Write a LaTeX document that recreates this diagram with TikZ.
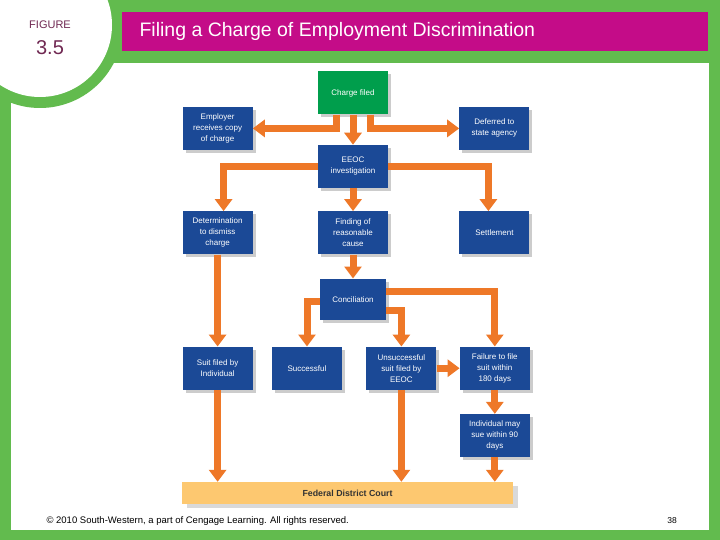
\documentclass[tikz,border=0pt]{standalone}
\usepackage{fontspec}
\setmainfont{Liberation Sans}
\usepackage{xcolor}
\usepackage{tikz}
\usetikzlibrary{positioning, arrows.meta, shadows}

\definecolor{framegreen}{RGB}{98,187,78}
\definecolor{titlemag}{RGB}{196,12,136}
\definecolor{figpurple}{RGB}{112,40,82}
\definecolor{boxblue}{RGB}{27,73,150}
\definecolor{chargegreen}{RGB}{0,158,76}
\definecolor{flowor}{RGB}{238,120,40}
\definecolor{courtfill}{RGB}{253,200,112}

\begin{document}
\begin{tikzpicture}[
  x=1pt, y=-1pt,
  node distance=23pt and 23pt,
  box/.style={fill=boxblue, text=white, align=center, minimum width=70pt, minimum height=43pt,
    inner sep=1pt, font=\fontsize{8}{11}\selectfont,
    drop shadow={shadow xshift=3pt, shadow yshift=-3pt, fill=black!20, opacity=1}},
  arrow/.style={-{Triangle[width=17pt, length=12pt]}, line width=7pt, draw=flowor},
]
\useasboundingbox (0,0) rectangle (720,540);
\clip (0,0) rectangle (720,540);

% frame and heading
\fill[framegreen] (0,0) rectangle (720,540);
\fill[white] (11,63) rectangle (709,530);
\fill[framegreen] (40,25) circle[radius=83];
\fill[white] (40,25) circle[radius=72];
\fill[titlemag] (122,12) rectangle (708,51);
\node[text=figpurple, font=\fontsize{11}{13}\selectfont] (figword) at (50,25) {FIGURE};
\node[text=figpurple, font=\fontsize{20}{22}\selectfont] (fignum) at (50,48) {3.5};
\node[anchor=west, text=white, font=\fontsize{19.5}{22}\selectfont] (title) at (136,31)
  {Filing a Charge of Employment Discrimination};

% boxes
\node[box, fill=chargegreen] (charge) at (353,93) {Charge filed};
\node[box, below=30pt of charge] (eeoc) {EEOC\\investigation};
\node[box, below=of eeoc] (cause) {Finding of\\reasonable\\cause};
\node[box, left=65pt of cause] (dismiss) {Determination\\to dismiss\\charge};
\node[box, right=71pt of cause] (settle) {Settlement};
\node[box, above=61pt of dismiss] (employer) {Employer\\receives copy\\of charge};
\node[box, above=61pt of settle] (deferred) {Deferred to\\state agency};
\node[box, below=24pt of cause, minimum width=66pt, minimum height=41pt] (concil) {Conciliation};

\node[box, below=92pt of dismiss] (suit) {Suit filed by\\Individual};
\node[box, right=19pt of suit] (success) {Successful};
\node[box, right=24pt of success] (unsucc) {Unsuccessful\\suit filed by\\EEOC};
\node[box, right=23pt of unsucc] (failure) {Failure to file\\suit within\\180 days};
\node[box, below=24pt of failure] (maysue) {Individual may\\sue within 90\\days};

\node[fill=courtfill, minimum width=331pt, minimum height=22pt, inner sep=0pt,
  font=\fontsize{8.8}{10}\selectfont\bfseries, text=black!80,
  drop shadow={shadow xshift=5pt, shadow yshift=-4pt, fill=black!15, opacity=1}]
  (court) at (347.5,493) {Federal District Court};

% connectors
\draw[arrow] (charge) -- (eeoc);
\draw[arrow] ([xshift=-17pt]charge.south) |- (employer.east);
\draw[arrow] ([xshift=17pt]charge.south) |- (deferred.west);

\draw[arrow] (eeoc.west) -| ([xshift=6pt]dismiss.north);
\draw[arrow] (eeoc.east) -| ([xshift=-6pt]settle.north);
\draw[arrow] (eeoc) -- (cause);
\draw[arrow] (cause) -- (concil);

\draw[arrow] ([yshift=-2pt]concil.west) -| (success.north);
\draw[arrow] ([yshift=-11pt]concil.east) -| (unsucc.north);
\draw[arrow] ([yshift=8pt]concil.east) -| (failure.north);
\draw[arrow] (unsucc) -- (failure);
\draw[arrow] (failure) -- (maysue);

\draw[arrow] (dismiss) -- (suit);
\draw[arrow] (suit) -- (suit |- court.north);
\draw[arrow] (unsucc) -- (unsucc |- court.north);
\draw[arrow] (maysue) -- (maysue |- court.north);

% footer
\node[anchor=west, font=\fontsize{9.5}{11}\selectfont] (credit) at (43,521)
  {© 2010 South-Western, a part of Cengage Learning. All rights reserved.};
\node[font=\fontsize{8.5}{10}\selectfont] (page) at (672,521) {38};
\end{tikzpicture}
\end{document}
